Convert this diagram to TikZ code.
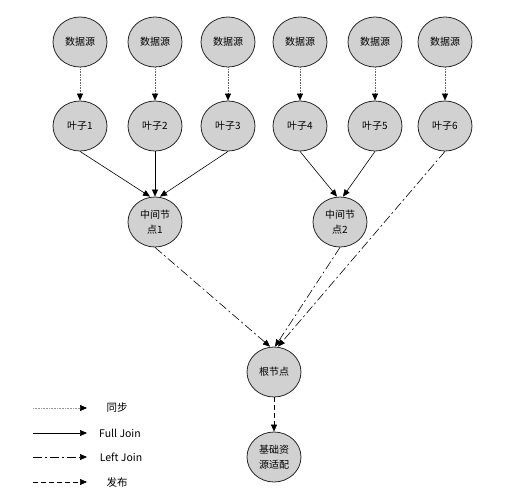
\documentclass[tikz,border=0pt]{standalone}
\usepackage{fontspec}
\setmainfont{Noto Sans CJK SC}
\usetikzlibrary{shapes.geometric,arrows.meta}

\begin{document}
\begin{tikzpicture}[x=1pt, y=-1pt,
	blob/.style={ellipse, draw=black!85, fill=black!18, line width=0.8pt, minimum width=54pt, minimum height=50pt, inner sep=0pt, align=center, font=\fontsize{10}{15}\selectfont},
	tip/.style={-{Triangle[length=7pt, width=6pt]}, line width=0.6pt},
	sync/.style={-{Triangle[length=7pt, width=6pt, color=black]}, line width=0.6pt, densely dotted, draw=black!60},
	full/.style={tip},
	leftjoin/.style={tip, dash pattern=on 9pt off 3pt on 2pt off 3pt},
	pub/.style={tip, dash pattern=on 5pt off 3pt},
	legend/.style={font=\fontsize{10.5}{12}\selectfont}]
	\useasboundingbox (0, 0) rectangle (514, 501);
	\foreach \i/\x in {1/80, 2/155, 3/228, 4/300, 5/375, 6/445} {
		\node[blob] (src\i) at (\x, 42) {数据源};
		\node[blob] (leaf\i) at (\x, 126) {叶子\i};
		\draw[sync] (src\i) -- (leaf\i);
	}
	\node[blob] (mid1) at (155, 222) {中间节\\点1};
	\node[blob] (mid2) at (340, 222) {中间节\\点2};
	\node[blob] (root) at (274, 372) {根节点};
	\node[blob] (base) at (274, 457) {基础资\\源适配};
	\draw[full] (leaf1.south) -- ([xshift=-5pt]mid1.north);
	\draw[full] (leaf2.south) -- (mid1.north);
	\draw[full] (leaf3.south) -- ([xshift=5pt]mid1.north);
	\draw[full] (leaf4.south) -- ([xshift=-3pt]mid2.north);
	\draw[full] (leaf5.south) -- ([xshift=3pt]mid2.north);
	\draw[leftjoin] (mid1.south) -- ([xshift=-4pt]root.north);
	\draw[leftjoin] (mid2.south) -- ([xshift=1pt]root.north);
	\draw[leftjoin] (leaf6.south) -- ([xshift=4pt]root.north);
	\draw[pub] (root.south) -- (base.north);
	\coordinate (k1a) at (33, 408); \coordinate (k1b) at (87, 408);
	\coordinate (k2a) at (33, 433); \coordinate (k2b) at (87, 433);
	\coordinate (k3a) at (33, 457); \coordinate (k3b) at (87, 457);
	\coordinate (k4a) at (33, 482); \coordinate (k4b) at (87, 482);
	\draw[sync, draw=black!40] (k1a) -- (k1b);
	\draw[full] (k2a) -- (k2b);
	\draw[leftjoin] (k3a) -- (k3b);
	\draw[pub] (k4a) -- (k4b);
	\node[legend] (t1) at (117, 408) {同步};
	\node[legend] (t2) at (120, 433) {Full Join};
	\node[legend] (t3) at (121, 457) {Left Join};
	\node[legend] (t4) at (117, 482) {发布};
\end{tikzpicture}
\end{document}
